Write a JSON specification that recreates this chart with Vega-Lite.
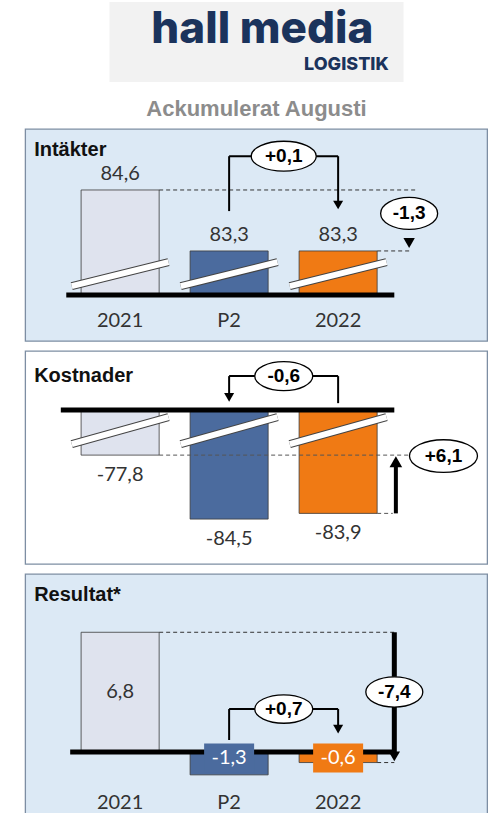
{
  "$schema": "https://vega.github.io/schema/vega-lite/v6.json",
  "background": "white",
  "padding": {"left": 24, "top": 2, "right": 0, "bottom": 0},
  "spacing": 8,
  "center": true,
  "datasets": {
    "intakter": [{"kategori": "2021", "varde": 84.6}, {"kategori": "P2", "varde": 83.3}, {"kategori": "2022", "varde": 83.3}],
    "kostnader": [{"kategori": "2021", "varde": -77.8}, {"kategori": "P2", "varde": -84.5}, {"kategori": "2022", "varde": -83.9}],
    "resultat": [{"kategori": "2021", "varde": 6.8}, {"kategori": "P2", "varde": -1.3}, {"kategori": "2022", "varde": -0.6}],
    "intakter_delta": [{"jamforelse": "mot P2", "varde": 0.1}, {"jamforelse": "mot 2021", "varde": -1.3}],
    "kostnader_delta": [{"jamforelse": "mot P2", "varde": -0.6}, {"jamforelse": "mot 2021", "varde": 6.1}],
    "resultat_delta": [{"jamforelse": "mot P2", "varde": 0.7}, {"jamforelse": "mot 2021", "varde": -7.4}]
  },
  "vconcat": [
    {
      "width": 294, "height": 80,
      "view": {"fill": "#f2f2f2", "stroke": null},
      "title": {"text": "Ackumulerat Augusti", "orient": "bottom", "anchor": "middle", "frame": "group", "offset": 17, "fontSize": 22, "fontWeight": "bold", "font": "Liberation Sans", "color": "#8c8c8c"},
      "data": {"values": [{"namn": "hall media", "enhet": "LOGISTIK"}]},
      "layer": [
        {"mark": {"type": "text", "font": "Inter", "fontWeight": 800, "fontSize": 44, "color": "#1b335c", "align": "center", "baseline": "alphabetic"},
         "encoding": {"text": {"field": "namn"}, "x": {"datum": 0.52, "type": "quantitative", "scale": {"domain": [0, 1]}, "axis": null}, "y": {"datum": 0.4875, "type": "quantitative", "scale": {"domain": [0, 1]}, "axis": null}}},
        {"mark": {"type": "text", "font": "Inter", "fontWeight": 800, "fontSize": 18, "color": "#1b335c", "align": "right", "baseline": "alphabetic"},
         "encoding": {"text": {"field": "enhet"}, "x": {"datum": 0.95, "type": "quantitative"}, "y": {"datum": 0.15, "type": "quantitative"}}}
      ]
    },
    {
      "width": 462, "height": 212,
      "view": {"fill": "#dce9f5", "stroke": "#7d8ea3", "strokeWidth": 1.3},
      "title": {"text": "Intäkter", "anchor": "start", "frame": "group", "offset": -31, "dx": 9, "fontSize": 20, "fontWeight": "bold", "font": "Liberation Sans", "color": "#111111"},
      "layer": [
        {"data": {"name": "intakter"}, "mark": {"type": "bar", "stroke": "#3a3a3a", "strokeWidth": 0.8},
         "encoding": {
           "x": {"field": "kategori", "type": "nominal", "scale": {"type": "band", "domain": ["2021", "P2", "2022"], "paddingInner": 0.284, "paddingOuter": 0.7613, "align": 0.337},
                 "axis": {"title": null, "orient": "bottom", "offset": -31, "domain": false, "ticks": false, "tickSize": 0, "labelPadding": 0, "labelFont": "Lato", "labelFontSize": 20, "labelColor": "#333333", "labelAngle": 0, "grid": false}},
           "y": {"field": "varde", "type": "quantitative", "scale": {"domain": [81.38, 85.9], "zero": false, "nice": false}, "axis": null},
           "y2": {"datum": 82.36},
           "color": {"field": "kategori", "type": "nominal", "scale": {"domain": ["2021", "P2", "2022"], "range": ["#dfe3ee", "#4b6b9e", "#f07a14"]}, "legend": null}}},
        {"data": {"name": "intakter"}, "mark": {"type": "rule", "stroke": "#444444", "strokeWidth": 8},
         "encoding": {"x": {"field": "kategori", "type": "nominal", "bandPosition": -0.12}, "x2": {"field": "kategori", "bandPosition": 1.12}, "y": {"datum": 82.55}, "y2": {"datum": 83.06}}},
        {"data": {"name": "intakter"}, "mark": {"type": "rule", "stroke": "white", "strokeWidth": 6},
         "encoding": {"x": {"field": "kategori", "type": "nominal", "bandPosition": -0.12}, "x2": {"field": "kategori", "bandPosition": 1.12}, "y": {"datum": 82.55}, "y2": {"datum": 83.06}}},
        {"data": {"name": "intakter"}, "transform": [{"filter": "datum.kategori == '2021'"}], "mark": {"type": "rule", "stroke": "black", "strokeWidth": 5},
         "encoding": {"x": {"field": "kategori", "type": "nominal", "bandPosition": -0.19}, "x2": {"datum": "2022", "bandPosition": 1.22}, "y": {"datum": 82.36}}},
        {"data": {"name": "intakter"}, "transform": [{"filter": "datum.kategori == '2021'"}], "mark": {"type": "rule", "stroke": "#333333", "strokeWidth": 1, "strokeDash": [4, 3]},
         "encoding": {"x": {"field": "kategori", "type": "nominal", "bandPosition": 1}, "x2": {"datum": "2022", "bandPosition": 1.5}, "y": {"field": "varde", "type": "quantitative"}}},
        {"data": {"name": "intakter"}, "transform": [{"filter": "datum.kategori == '2022'"}], "mark": {"type": "rule", "stroke": "#333333", "strokeWidth": 1, "strokeDash": [4, 3]},
         "encoding": {"x": {"field": "kategori", "type": "nominal", "bandPosition": 1}, "x2": {"field": "kategori", "bandPosition": 1.41}, "y": {"field": "varde", "type": "quantitative"}}},
        {"data": {"name": "intakter_delta"}, "transform": [{"filter": "datum.jamforelse == 'mot P2'"}], "mark": {"type": "rule", "stroke": "black", "strokeWidth": 2},
         "encoding": {"x": {"datum": "P2", "type": "nominal", "bandPosition": 0.5}, "y": {"datum": 84.15}, "y2": {"datum": 85.32}}},
        {"data": {"name": "intakter_delta"}, "transform": [{"filter": "datum.jamforelse == 'mot P2'"}], "mark": {"type": "rule", "stroke": "black", "strokeWidth": 2},
         "encoding": {"x": {"datum": "P2", "type": "nominal", "bandPosition": 0.5}, "x2": {"datum": "2022", "bandPosition": 0.5}, "y": {"datum": 85.32}}},
        {"data": {"name": "intakter_delta"}, "transform": [{"filter": "datum.jamforelse == 'mot P2'"}], "mark": {"type": "rule", "stroke": "black", "strokeWidth": 2},
         "encoding": {"x": {"datum": "2022", "type": "nominal", "bandPosition": 0.5}, "y": {"datum": 85.32}, "y2": {"datum": 84.35}}},
        {"data": {"name": "intakter_delta"}, "transform": [{"filter": "datum.jamforelse == 'mot P2'"}], "mark": {"type": "point", "shape": "triangle-down", "filled": true, "fill": "black", "size": 100, "opacity": 1},
         "encoding": {"x": {"datum": "2022", "type": "nominal", "bandPosition": 0.5}, "y": {"datum": 84.28}}},
        {"data": {"name": "intakter_delta"}, "transform": [{"filter": "datum.jamforelse == 'mot P2'"}], "mark": {"type": "point", "shape": "M-1,0A1,0.46,0,1,0,1,0A1,0.46,0,1,0,-1,0Z", "filled": true, "fill": "white", "stroke": "black", "strokeWidth": 1.3, "size": 4225, "opacity": 1},
         "encoding": {"x": {"datum": "P2", "type": "nominal", "bandPosition": 1.2}, "y": {"datum": 85.32}}},
        {"data": {"name": "intakter_delta"}, "transform": [{"filter": "datum.jamforelse == 'mot P2'"}], "mark": {"type": "text", "font": "Liberation Sans", "fontWeight": "bold", "fontSize": 19, "color": "black", "baseline": "middle", "align": "center"},
         "encoding": {"text": {"field": "varde", "type": "quantitative", "format": "+.1f"}, "x": {"datum": "P2", "type": "nominal", "bandPosition": 1.2}, "y": {"datum": 85.32}}},
        {"data": {"name": "intakter_delta"}, "transform": [{"filter": "datum.jamforelse == 'mot 2021'"}], "mark": {"type": "point", "shape": "triangle-down", "filled": true, "fill": "black", "size": 130, "opacity": 1},
         "encoding": {"x": {"datum": "2022", "type": "nominal", "bandPosition": 1.41}, "y": {"datum": 83.47}}},
        {"data": {"name": "intakter_delta"}, "transform": [{"filter": "datum.jamforelse == 'mot 2021'"}], "mark": {"type": "point", "shape": "M-1,0A1,0.56,0,1,0,1,0A1,0.56,0,1,0,-1,0Z", "filled": true, "fill": "white", "stroke": "black", "strokeWidth": 1.3, "size": 3249, "opacity": 1},
         "encoding": {"x": {"datum": "2022", "type": "nominal", "bandPosition": 1.41}, "y": {"datum": 84.1}}},
        {"data": {"name": "intakter_delta"}, "transform": [{"filter": "datum.jamforelse == 'mot 2021'"}], "mark": {"type": "text", "font": "Liberation Sans", "fontWeight": "bold", "fontSize": 19, "color": "black", "baseline": "middle", "align": "center"},
         "encoding": {"text": {"field": "varde", "type": "quantitative", "format": ".1f"}, "x": {"datum": "2022", "type": "nominal", "bandPosition": 1.41}, "y": {"datum": 84.1}}},
        {"data": {"name": "intakter"}, "mark": {"type": "text", "font": "Lato", "fontSize": 20, "color": "#333333", "baseline": "alphabetic", "align": "center", "dy": -10},
         "encoding": {"text": {"field": "varde", "type": "quantitative", "format": ".1f"}, "x": {"field": "kategori", "type": "nominal"}, "y": {"field": "varde", "type": "quantitative"}}}
      ]
    },
    {
      "width": 462, "height": 213,
      "view": {"fill": "white", "stroke": "#7d8ea3", "strokeWidth": 1.3},
      "title": {"text": "Kostnader", "anchor": "start", "frame": "group", "offset": -35, "dx": 9, "fontSize": 20, "fontWeight": "bold", "font": "Liberation Sans", "color": "#111111"},
      "layer": [
        {"data": {"name": "kostnader"}, "mark": {"type": "bar", "stroke": "#3a3a3a", "strokeWidth": 0.8},
         "encoding": {
           "x": {"field": "kategori", "type": "nominal", "scale": {"type": "band", "domain": ["2021", "P2", "2022"], "paddingInner": 0.284, "paddingOuter": 0.7613, "align": 0.337}, "axis": null},
           "y": {"field": "varde", "type": "quantitative", "scale": {"domain": [-89.2, -66.9], "zero": false, "nice": false}, "axis": null},
           "y2": {"datum": -73.09},
           "color": {"field": "kategori", "type": "nominal", "scale": {"domain": ["2021", "P2", "2022"], "range": ["#dfe3ee", "#4b6b9e", "#f07a14"]}, "legend": null}}},
        {"data": {"name": "kostnader"}, "mark": {"type": "rule", "stroke": "#444444", "strokeWidth": 8},
         "encoding": {"x": {"field": "kategori", "type": "nominal", "bandPosition": -0.12}, "x2": {"field": "kategori", "bandPosition": 1.12}, "y": {"datum": -76.65}, "y2": {"datum": -73.82}}},
        {"data": {"name": "kostnader"}, "mark": {"type": "rule", "stroke": "white", "strokeWidth": 6},
         "encoding": {"x": {"field": "kategori", "type": "nominal", "bandPosition": -0.12}, "x2": {"field": "kategori", "bandPosition": 1.12}, "y": {"datum": -76.65}, "y2": {"datum": -73.82}}},
        {"data": {"name": "kostnader"}, "transform": [{"filter": "datum.kategori == '2021'"}], "mark": {"type": "rule", "stroke": "black", "strokeWidth": 5},
         "encoding": {"x": {"field": "kategori", "type": "nominal", "bandPosition": -0.26}, "x2": {"datum": "2022", "bandPosition": 1.22}, "y": {"datum": -73.09}}},
        {"data": {"name": "kostnader"}, "transform": [{"filter": "datum.kategori == '2021'"}], "mark": {"type": "rule", "stroke": "#555555", "strokeWidth": 1, "strokeDash": [4, 3]},
         "encoding": {"x": {"field": "kategori", "type": "nominal", "bandPosition": 1}, "x2": {"datum": "2022", "bandPosition": 1.4}, "y": {"field": "varde", "type": "quantitative"}}},
        {"data": {"name": "kostnader"}, "transform": [{"filter": "datum.kategori == '2022'"}], "mark": {"type": "rule", "stroke": "#555555", "strokeWidth": 1, "strokeDash": [4, 3]},
         "encoding": {"x": {"field": "kategori", "type": "nominal", "bandPosition": 1}, "x2": {"field": "kategori", "bandPosition": 1.2}, "y": {"field": "varde", "type": "quantitative"}}},
        {"data": {"name": "kostnader_delta"}, "transform": [{"filter": "datum.jamforelse == 'mot 2021'"}], "mark": {"type": "rule", "stroke": "black", "strokeWidth": 4},
         "encoding": {"x": {"datum": "2022", "type": "nominal", "bandPosition": 1.24}, "y": {"datum": -83.9}, "y2": {"datum": -78.6}}},
        {"data": {"name": "kostnader_delta"}, "transform": [{"filter": "datum.jamforelse == 'mot 2021'"}], "mark": {"type": "point", "shape": "triangle-up", "filled": true, "fill": "black", "size": 160, "opacity": 1},
         "encoding": {"x": {"datum": "2022", "type": "nominal", "bandPosition": 1.24}, "y": {"datum": -78.5}}},
        {"data": {"name": "kostnader_delta"}, "transform": [{"filter": "datum.jamforelse == 'mot 2021'"}], "mark": {"type": "point", "shape": "M-1,0A1,0.48,0,1,0,1,0A1,0.48,0,1,0,-1,0Z", "filled": true, "fill": "white", "stroke": "black", "strokeWidth": 1.3, "size": 4624, "opacity": 1},
         "encoding": {"x": {"datum": "2022", "type": "nominal", "bandPosition": 1.85}, "y": {"datum": -77.9}}},
        {"data": {"name": "kostnader_delta"}, "transform": [{"filter": "datum.jamforelse == 'mot 2021'"}], "mark": {"type": "text", "font": "Liberation Sans", "fontWeight": "bold", "fontSize": 19, "color": "black", "baseline": "middle", "align": "center"},
         "encoding": {"text": {"field": "varde", "type": "quantitative", "format": "+.1f"}, "x": {"datum": "2022", "type": "nominal", "bandPosition": 1.85}, "y": {"datum": -77.9}}},
        {"data": {"name": "kostnader_delta"}, "transform": [{"filter": "datum.jamforelse == 'mot P2'"}], "mark": {"type": "rule", "stroke": "black", "strokeWidth": 2},
         "encoding": {"x": {"datum": "2022", "type": "nominal", "bandPosition": 0.5}, "y": {"datum": -72.36}, "y2": {"datum": -69.53}}},
        {"data": {"name": "kostnader_delta"}, "transform": [{"filter": "datum.jamforelse == 'mot P2'"}], "mark": {"type": "rule", "stroke": "black", "strokeWidth": 2},
         "encoding": {"x": {"datum": "P2", "type": "nominal", "bandPosition": 0.5}, "x2": {"datum": "2022", "bandPosition": 0.5}, "y": {"datum": -69.53}}},
        {"data": {"name": "kostnader_delta"}, "transform": [{"filter": "datum.jamforelse == 'mot P2'"}], "mark": {"type": "rule", "stroke": "black", "strokeWidth": 2},
         "encoding": {"x": {"datum": "P2", "type": "nominal", "bandPosition": 0.5}, "y": {"datum": -69.53}, "y2": {"datum": -71.5}}},
        {"data": {"name": "kostnader_delta"}, "transform": [{"filter": "datum.jamforelse == 'mot P2'"}], "mark": {"type": "point", "shape": "triangle-down", "filled": true, "fill": "black", "size": 100, "opacity": 1},
         "encoding": {"x": {"datum": "P2", "type": "nominal", "bandPosition": 0.5}, "y": {"datum": -71.75}}},
        {"data": {"name": "kostnader_delta"}, "transform": [{"filter": "datum.jamforelse == 'mot P2'"}], "mark": {"type": "point", "shape": "M-1,0A1,0.5,0,1,0,1,0A1,0.5,0,1,0,-1,0Z", "filled": true, "fill": "white", "stroke": "black", "strokeWidth": 1.3, "size": 3364, "opacity": 1},
         "encoding": {"x": {"datum": "P2", "type": "nominal", "bandPosition": 1.2}, "y": {"datum": -69.53}}},
        {"data": {"name": "kostnader_delta"}, "transform": [{"filter": "datum.jamforelse == 'mot P2'"}], "mark": {"type": "text", "font": "Liberation Sans", "fontWeight": "bold", "fontSize": 19, "color": "black", "baseline": "middle", "align": "center"},
         "encoding": {"text": {"field": "varde", "type": "quantitative", "format": ".1f"}, "x": {"datum": "P2", "type": "nominal", "bandPosition": 1.2}, "y": {"datum": -69.53}}},
        {"data": {"name": "kostnader"}, "mark": {"type": "text", "font": "Lato", "fontSize": 20, "color": "#333333", "baseline": "top", "align": "center", "dy": 10},
         "encoding": {"text": {"field": "varde", "type": "quantitative", "format": ".1f"}, "x": {"field": "kategori", "type": "nominal"}, "y": {"field": "varde", "type": "quantitative"}}}
      ]
    },
    {
      "width": 462, "height": 247,
      "view": {"fill": "#dce9f5", "stroke": "#7d8ea3", "strokeWidth": 1.3},
      "title": {"text": "Resultat*", "anchor": "start", "frame": "group", "offset": -31, "dx": 9, "fontSize": 20, "fontWeight": "bold", "font": "Liberation Sans", "color": "#111111"},
      "layer": [
        {"data": {"name": "resultat"}, "mark": {"type": "bar", "stroke": "#3a3a3a", "strokeWidth": 0.8},
         "encoding": {
           "x": {"field": "kategori", "type": "nominal", "scale": {"type": "band", "domain": ["2021", "P2", "2022"], "paddingInner": 0.284, "paddingOuter": 0.7613, "align": 0.337},
                 "axis": {"title": null, "orient": "bottom", "offset": -29, "domain": false, "ticks": false, "tickSize": 0, "labelPadding": 0, "labelFont": "Lato", "labelFontSize": 20, "labelColor": "#333333", "labelAngle": 0, "grid": false}},
           "y": {"field": "varde", "type": "quantitative", "scale": {"domain": [-3.92, 10.11], "zero": false, "nice": false}, "axis": null},
           "y2": {"datum": 0},
           "color": {"field": "kategori", "type": "nominal", "scale": {"domain": ["2021", "P2", "2022"], "range": ["#dfe3ee", "#4b6b9e", "#f07a14"]}, "legend": null}}},
        {"data": {"name": "resultat"}, "transform": [{"filter": "datum.kategori == '2021'"}], "mark": {"type": "rule", "stroke": "black", "strokeWidth": 5},
         "encoding": {"x": {"field": "kategori", "type": "nominal", "bandPosition": -0.14}, "x2": {"datum": "2022", "bandPosition": 1.24}, "y": {"datum": 0}}},
        {"data": {"name": "resultat"}, "transform": [{"filter": "datum.kategori == '2021'"}], "mark": {"type": "rule", "stroke": "#333333", "strokeWidth": 1, "strokeDash": [4, 3]},
         "encoding": {"x": {"field": "kategori", "type": "nominal", "bandPosition": 1}, "x2": {"datum": "2022", "bandPosition": 1.22}, "y": {"field": "varde", "type": "quantitative"}}},
        {"data": {"name": "resultat"}, "transform": [{"filter": "datum.kategori == '2022'"}], "mark": {"type": "rule", "stroke": "#333333", "strokeWidth": 1, "strokeDash": [4, 3]},
         "encoding": {"x": {"field": "kategori", "type": "nominal", "bandPosition": 1}, "x2": {"field": "kategori", "bandPosition": 1.22}, "y": {"field": "varde", "type": "quantitative"}}},
        {"data": {"name": "resultat"}, "transform": [{"filter": "datum.kategori != '2021'"}], "mark": {"type": "point", "shape": "M-1,-0.58L1,-0.58L1,0.58L-1,0.58Z", "filled": true, "size": 2500, "opacity": 1},
         "encoding": {"x": {"field": "kategori", "type": "nominal"}, "y": {"datum": -0.34}, "color": {"field": "kategori", "type": "nominal", "legend": null}}},
        {"data": {"name": "resultat"}, "transform": [{"filter": "datum.kategori != '2021'"}], "mark": {"type": "text", "font": "Lato", "fontSize": 20, "color": "white", "baseline": "middle", "align": "center"},
         "encoding": {"text": {"field": "varde", "type": "quantitative", "format": ".1f"}, "x": {"field": "kategori", "type": "nominal"}, "y": {"datum": -0.34}}},
        {"data": {"name": "resultat"}, "transform": [{"filter": "datum.kategori == '2021'"}], "mark": {"type": "text", "font": "Lato", "fontSize": 20, "color": "#333333", "baseline": "middle", "align": "center"},
         "encoding": {"text": {"field": "varde", "type": "quantitative", "format": ".1f"}, "x": {"field": "kategori", "type": "nominal"}, "y": {"datum": 3.4}}},
        {"data": {"name": "resultat_delta"}, "transform": [{"filter": "datum.jamforelse == 'mot 2021'"}], "mark": {"type": "rule", "stroke": "black", "strokeWidth": 5},
         "encoding": {"x": {"datum": "2022", "type": "nominal", "bandPosition": 1.22}, "y": {"datum": 6.8}, "y2": {"datum": -0.1}}},
        {"data": {"name": "resultat_delta"}, "transform": [{"filter": "datum.jamforelse == 'mot 2021'"}], "mark": {"type": "point", "shape": "triangle-down", "filled": true, "fill": "black", "size": 130, "opacity": 1},
         "encoding": {"x": {"datum": "2022", "type": "nominal", "bandPosition": 1.22}, "y": {"datum": -0.25}}},
        {"data": {"name": "resultat_delta"}, "transform": [{"filter": "datum.jamforelse == 'mot 2021'"}], "mark": {"type": "point", "shape": "M-1,0A1,0.53,0,1,0,1,0A1,0.53,0,1,0,-1,0Z", "filled": true, "fill": "white", "stroke": "black", "strokeWidth": 1.3, "size": 3249, "opacity": 1},
         "encoding": {"x": {"datum": "2022", "type": "nominal", "bandPosition": 1.22}, "y": {"datum": 3.41}}},
        {"data": {"name": "resultat_delta"}, "transform": [{"filter": "datum.jamforelse == 'mot 2021'"}], "mark": {"type": "text", "font": "Liberation Sans", "fontWeight": "bold", "fontSize": 19, "color": "black", "baseline": "middle", "align": "center"},
         "encoding": {"text": {"field": "varde", "type": "quantitative", "format": ".1f"}, "x": {"datum": "2022", "type": "nominal", "bandPosition": 1.22}, "y": {"datum": 3.41}}},
        {"data": {"name": "resultat_delta"}, "transform": [{"filter": "datum.jamforelse == 'mot P2'"}], "mark": {"type": "rule", "stroke": "black", "strokeWidth": 2},
         "encoding": {"x": {"datum": "P2", "type": "nominal", "bandPosition": 0.5}, "y": {"datum": 0.68}, "y2": {"datum": 2.44}}},
        {"data": {"name": "resultat_delta"}, "transform": [{"filter": "datum.jamforelse == 'mot P2'"}], "mark": {"type": "rule", "stroke": "black", "strokeWidth": 2},
         "encoding": {"x": {"datum": "P2", "type": "nominal", "bandPosition": 0.5}, "x2": {"datum": "2022", "bandPosition": 0.5}, "y": {"datum": 2.44}}},
        {"data": {"name": "resultat_delta"}, "transform": [{"filter": "datum.jamforelse == 'mot P2'"}], "mark": {"type": "rule", "stroke": "black", "strokeWidth": 2},
         "encoding": {"x": {"datum": "2022", "type": "nominal", "bandPosition": 0.5}, "y": {"datum": 2.44}, "y2": {"datum": 1.35}}},
        {"data": {"name": "resultat_delta"}, "transform": [{"filter": "datum.jamforelse == 'mot P2'"}], "mark": {"type": "point", "shape": "triangle-down", "filled": true, "fill": "black", "size": 100, "opacity": 1},
         "encoding": {"x": {"datum": "2022", "type": "nominal", "bandPosition": 0.5}, "y": {"datum": 1.3}}},
        {"data": {"name": "resultat_delta"}, "transform": [{"filter": "datum.jamforelse == 'mot P2'"}], "mark": {"type": "point", "shape": "M-1,0A1,0.49,0,1,0,1,0A1,0.49,0,1,0,-1,0Z", "filled": true, "fill": "white", "stroke": "black", "strokeWidth": 1.3, "size": 3364, "opacity": 1},
         "encoding": {"x": {"datum": "P2", "type": "nominal", "bandPosition": 1.2}, "y": {"datum": 2.44}}},
        {"data": {"name": "resultat_delta"}, "transform": [{"filter": "datum.jamforelse == 'mot P2'"}], "mark": {"type": "text", "font": "Liberation Sans", "fontWeight": "bold", "fontSize": 19, "color": "black", "baseline": "middle", "align": "center"},
         "encoding": {"text": {"field": "varde", "type": "quantitative", "format": "+.1f"}, "x": {"datum": "P2", "type": "nominal", "bandPosition": 1.2}, "y": {"datum": 2.44}}}
      ]
    }
  ],
  "config": {
    "locale": {"number": {"decimal": ",", "thousands": " ", "grouping": [3], "currency": ["", " kr"], "minus": "-"}},
    "view": {"stroke": null},
    "axis": {"grid": false}
  }
}
